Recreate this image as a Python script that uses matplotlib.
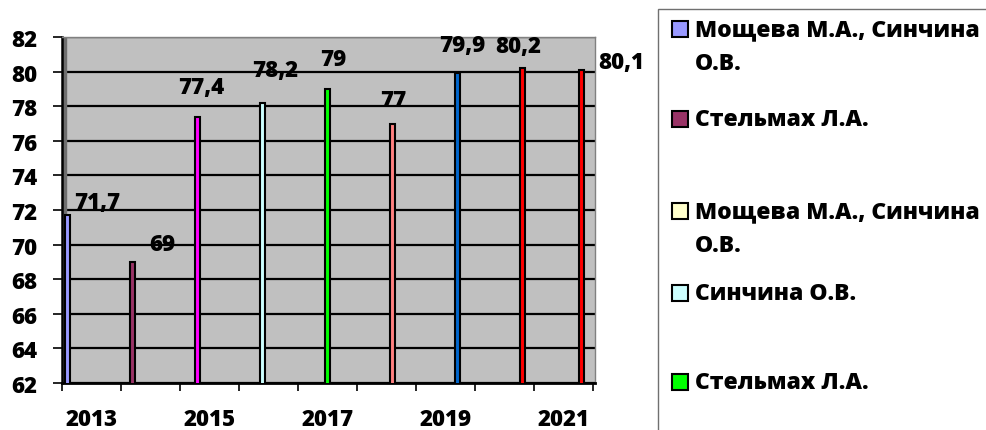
import matplotlib
matplotlib.use('Agg')
import matplotlib.pyplot as plt
from matplotlib.patches import Rectangle

plt.rcParams['font.family'] = ['Open Sans', 'DejaVu Sans']
plt.rcParams['font.weight'] = 'heavy'

# данные
years = ['2013', '2014', '2015', '2016', '2017', '2018', '2019', '2020', '2021']
values = [71.7, 69, 77.4, 78.2, 79, 77, 79.9, 80.2, 80.1]
value_labels = ['71,7', '69', '77,4', '78,2', '79', '77', '79,9', '80,2', '80,1']
series_idx = [0, 1, 2, 3, 4, 5, 6, 7, 7]   # номер ряда для каждого года
bar_colors = ['#9999FF', '#993366', '#FF00FF', '#CCFFFF', '#00FF00',
              '#FF8080', '#0066CC', '#FF0000', '#FF0000']

legend_names = ['Мощева М.А., Синчина\nО.В.', 'Стельмах Л.А.',
                'Мощева М.А., Синчина\nО.В.', 'Синчина О.В.', 'Стельмах Л.А.']
legend_colors = ['#9999FF', '#993366', '#FFFFCC', '#CCFFFF', '#00FF00']

# раскладка (пиксели)
label_dx = [29, 29, 3, 13, 6, 1, 5, -4, 40]
label_dy = [13, 18, 30, 33, 30, 24, 28, 22, 8]
legend_y = [30, 120, 212, 294, 383]

W, H = 986, 431
fig = plt.figure(figsize=(W / 100, H / 100), dpi=100)
ax = fig.add_axes([62 / W, 47 / H, (595 - 62) / W, (384 - 38) / H])
ax.set_facecolor('#C0C0C0')

xs = [i - 0.5 + 0.1 * (s + 1) for i, s in enumerate(series_idx)]
ax.bar(xs, values, width=0.085, color=bar_colors, edgecolor='black', linewidth=1.5, zorder=3)

# подписи значений
for x, v, t, dx, dy in zip(xs, values, value_labels, label_dx, label_dy):
    ax.annotate(t, xy=(x, v), xytext=(dx, dy), textcoords='offset pixels',
                ha='center', va='center', fontsize=16, fontweight='heavy',
                annotation_clip=False)

ax.set_xlim(-0.5, 8.53)
ax.set_ylim(62, 82)
ax.set_yticks(range(62, 83, 2))
ax.yaxis.grid(True, color='black', linewidth=1.6, zorder=1)
ax.set_axisbelow(True)
ax.tick_params(axis='y', length=6.5, width=1.2, pad=11, labelsize=16)

ax.set_xticks([i - 0.5 for i in range(10)])
ax.set_xticklabels([])
ax.set_xticks(range(0, 9, 2), minor=True)
ax.set_xticklabels(years[::2], minor=True)
ax.tick_params(axis='x', which='major', length=6, width=1.2)
ax.tick_params(axis='x', which='minor', length=0, pad=17, labelsize=16)

for side in ['top', 'right']:
    ax.spines[side].set_color('#808080')
    ax.spines[side].set_linewidth(1)
ax.spines['left'].set_linewidth(1.8)
ax.spines['bottom'].set_linewidth(2)
ax.axvspan(-0.5, -0.44, color='#6E6E6E', zorder=2)

# легенда
fig.patches.append(Rectangle((658 / W, -0.1), 0.5, 1.1 - 10 / H, transform=fig.transFigure,
                             facecolor='white', edgecolor='#707070', linewidth=1))
for name, col, yc in zip(legend_names, legend_colors, legend_y):
    fig.patches.append(Rectangle((672 / W, 1 - (yc + 8) / H), 16 / W, 16 / H,
                                 transform=fig.transFigure, facecolor=col,
                                 edgecolor='black', linewidth=1.5))
    for k, line in enumerate(name.split('\n')):
        fig.text(695 / W, 1 - (yc + 34 * k) / H, line, ha='left', va='center',
                 fontsize=16.5, fontweight='heavy')

fig.savefig('out.png', dpi=100)
